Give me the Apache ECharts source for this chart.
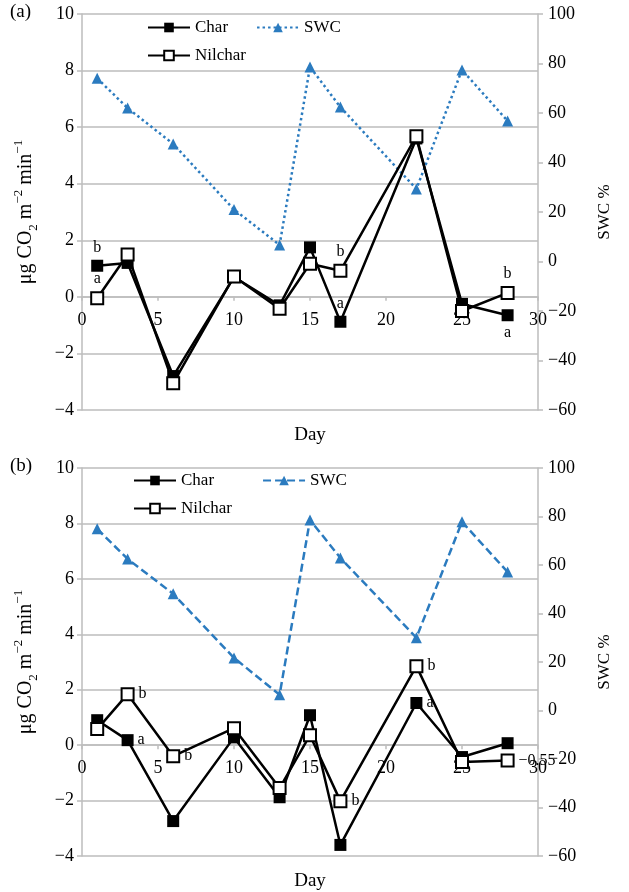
<!DOCTYPE html>
<html>
<head>
<meta charset="utf-8">
<script src="https://cdn.jsdelivr.net/npm/echarts@6/dist/echarts.min.js"></script>
<style>html,body{margin:0;padding:0;background:#fff;}#c{width:629px;height:892px;}</style>
</head>
<body>
<div id="c"></div>
<script>
// ---- data ----
const days = [1, 3, 6, 10, 13, 15, 17, 22, 25, 28];
// panel (a)
const charA = [1.1, 1.2, -2.8, 0.7, -0.3, 1.75, -0.88, 5.6, -0.25, -0.65];
const nilA  = [-0.05, 1.5, -3.05, 0.72, -0.42, 1.17, 0.92, 5.68, -0.5, 0.14];
const swcA  = [74, 62, 47.5, 21, 6.7, 78.6, 62.4, 29.3, 77.4, 56.8];
const charLetA = ['b', '', '', '', '', '', 'a', '', '', 'a'];
const nilLetA  = ['a', '', '', '', '', '', 'b', '', '', 'b'];
// panel (b)
const charB = [0.9, 0.18, -2.74, 0.28, -1.88, 1.08, -3.6, 1.52, -0.43, 0.07];
const nilB  = [0.58, 1.84, -0.4, 0.61, -1.55, 0.36, -2.02, 2.85, -0.61, -0.55];
const swcB  = [74.9, 62.5, 48.1, 21.7, 6.5, 78.6, 62.9, 30, 77.8, 57.1];
const charLetB = ['', 'a', '', '', '', '', '', 'a', '', ''];
const nilLetB  = ['', 'b', 'b', '', '', '', 'b', 'b', '', '\u22120.55'];
// axes
const leftTicks = {min: -4, max: 10, interval: 2};
const rightTicks = {min: -60, max: 100, interval: 20};
const xTicks = {min: 0, max: 30, interval: 5};

// ---- styles ----
const FONT = 'Liberation Serif';
const GRAY = '#bdbdbd';
const BLUE = '#2b7bbf';
const TICKFS = 18;
const minus = v => String(v).replace('-', '\u2212');

function pts(vals, lets, posFn) {
  return days.map((d, i) => {
    const item = {value: [d, vals[i]]};
    if (lets && lets[i]) {
      item.label = {show: true, formatter: lets[i], position: posFn(i), distance: 4,
        color: '#000', fontFamily: FONT, fontSize: 16};
    }
    return item;
  });
}

const grids = [
  {left: 82, top: 14, width: 456, height: 396, outerBoundsMode: 'none', containLabel: false},
  {left: 82, top: 468, width: 456, height: 388, outerBoundsMode: 'none', containLabel: false}
];
// x axis sits on the left axis' zero line: shift it up from the grid bottom
const zeroShift = g => grids[g].height * (0 - leftTicks.min) / (leftTicks.max - leftTicks.min);

const yName = '{n|\u03bcg CO}{sub|2}{n| m}{sup|\u22122}{n| min}{sup|\u22121}';
const yRich = {
  n: {fontFamily: FONT, fontSize: 20, color: '#000', lineHeight: 28, verticalAlign: 'middle'},
  sub: {fontFamily: FONT, fontSize: 13, color: '#000', lineHeight: 28, verticalAlign: 'bottom'},
  sup: {fontFamily: FONT, fontSize: 13, color: '#000', lineHeight: 28, verticalAlign: 'top'}
};

const xAxes = [0, 1].map(g => ({
  type: 'value', gridIndex: g, min: xTicks.min, max: xTicks.max, interval: xTicks.interval,
  position: 'bottom', offset: -zeroShift(g),
  axisLine: {onZero: false, lineStyle: {color: GRAY, width: 1.5}},
  axisTick: {show: true, length: 4, lineStyle: {color: GRAY, width: 1.5}},
  axisLabel: {color: '#000', fontFamily: FONT, fontSize: TICKFS, margin: 14},
  splitLine: {show: false},
  name: 'Day', nameLocation: 'middle', nameGap: g === 0 ? 129 : 126, nameMoveOverlap: false,
  nameTextStyle: {color: '#000', fontFamily: FONT, fontSize: 19, verticalAlign: 'top'}
}));

const yAxes = [];
[0, 1].forEach(g => {
  yAxes.push({
    type: 'value', gridIndex: g, position: 'left', min: leftTicks.min, max: leftTicks.max, interval: leftTicks.interval,
    axisLine: {show: true, onZero: false, lineStyle: {color: GRAY, width: 1.5}},
    axisTick: {show: true, length: 5, lineStyle: {color: GRAY, width: 1.5}},
    axisLabel: {color: '#000', fontFamily: FONT, fontSize: TICKFS, margin: 8, formatter: minus},
    splitLine: {show: true, lineStyle: {color: GRAY, width: 1.5}},
    name: yName, nameLocation: 'middle', nameRotate: 90, nameGap: 42, nameMoveOverlap: false,
    nameTextStyle: {rich: yRich}
  });
  yAxes.push({
    type: 'value', gridIndex: g, position: 'right', min: rightTicks.min, max: rightTicks.max, interval: rightTicks.interval,
    axisLine: {show: true, onZero: false, lineStyle: {color: GRAY, width: 1.5}},
    axisTick: {show: true, length: 5, lineStyle: {color: GRAY, width: 1.5}},
    axisLabel: {color: '#000', fontFamily: FONT, fontSize: TICKFS, margin: 10, formatter: minus},
    splitLine: {show: false},
    name: 'SWC %', nameLocation: 'middle', nameRotate: 90, nameGap: 58, nameMoveOverlap: false,
    nameTextStyle: {color: '#000', fontFamily: FONT, fontSize: 17}
  });
});

function makeSeries(g, charV, nilV, swcV, charL, nilL, posChar, posNil, dash) {
  const sfx = g === 0 ? '' : '\u200b';
  return [
    {name: 'SWC' + sfx, type: 'line', xAxisIndex: g, yAxisIndex: g * 2 + 1,
     data: pts(swcV), symbol: 'triangle', symbolSize: 11,
     itemStyle: {color: BLUE}, lineStyle: {color: BLUE, width: 2.5, type: dash}, z: 2},
    {name: 'Char' + sfx, type: 'line', xAxisIndex: g, yAxisIndex: g * 2,
     data: pts(charV, charL, posChar), symbol: 'rect', symbolSize: 12,
     itemStyle: {color: '#000'}, lineStyle: {color: '#000', width: 2.5}, z: 3},
    {name: 'Nilchar' + sfx, type: 'line', xAxisIndex: g, yAxisIndex: g * 2,
     data: pts(nilV, nilL, posNil), symbol: 'rect', symbolSize: 12,
     itemStyle: {color: '#fff', borderColor: '#000', borderWidth: 2}, lineStyle: {color: '#000', width: 2.5}, z: 4}
  ];
}

const series = [
  ...makeSeries(0, charA, nilA, swcA, charLetA, nilLetA, i => (i === 9 ? 'bottom' : 'top'), () => 'top', [2.5, 3]),
  ...makeSeries(1, charB, nilB, swcB, charLetB, nilLetB, () => 'right', () => 'right', [8, 4])
];

const legStyle = {color: '#000', fontFamily: FONT, fontSize: 17};
function leg(names, left, top, gap) {
  return {data: names, left: left, top: top, padding: 0, itemGap: gap, itemWidth: 42, itemHeight: 12,
    selectedMode: false, textStyle: legStyle, formatter: n => n.replace('\u200b', '')};
}

const chart = echarts.init(document.getElementById('c'));
chart.setOption({
  animation: false,
  backgroundColor: '#fff',
  grid: grids,
  xAxis: xAxes,
  yAxis: yAxes,
  legend: [
    leg(['Char', 'SWC'], 147, 19, 28),
    leg(['Nilchar'], 147, 47, 10),
    leg(['Char\u200b', 'SWC\u200b'], 133, 472, 48),
    leg(['Nilchar\u200b'], 133, 500, 10)
  ],
  graphic: [
    {type: 'text', left: 10, top: 3, style: {text: '(a)', fontFamily: FONT, fontSize: 19, fill: '#000'}},
    {type: 'text', left: 10, top: 457, style: {text: '(b)', fontFamily: FONT, fontSize: 19, fill: '#000'}}
  ],
  series: series
});
</script>
</body>
</html>
